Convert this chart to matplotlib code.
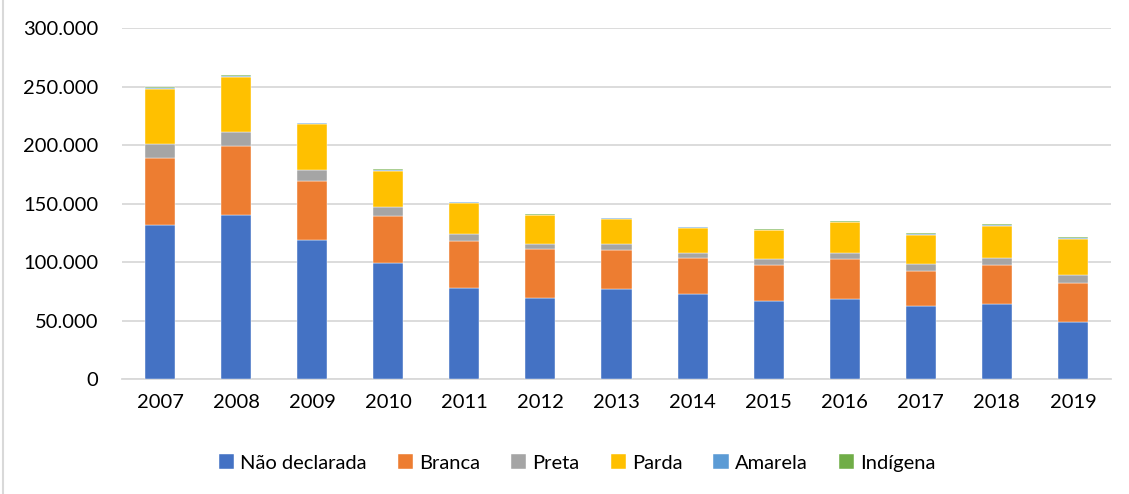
import matplotlib
matplotlib.use("Agg")
import matplotlib.pyplot as plt
from matplotlib.ticker import FuncFormatter
from matplotlib.patches import Rectangle
import numpy as np

years = ["2007", "2008", "2009", "2010", "2011", "2012", "2013", "2014", "2015", "2016", "2017", "2018", "2019"]
nao_declarada = [131800, 139800, 118400, 98800, 77400, 69400, 76900, 72600, 66600, 68100, 62100, 64100, 48400]
branca = [57500, 59200, 50700, 40100, 40500, 41300, 33300, 30400, 30800, 34100, 30400, 33200, 33900]
preta = [11700, 12000, 9400, 7700, 6200, 5100, 5100, 4300, 5100, 5400, 5400, 5700, 6600]
parda = [47000, 47500, 39100, 31600, 26200, 24000, 21700, 21700, 24500, 26200, 25600, 28000, 31000]
amarela = [900, 900, 800, 800, 600, 500, 600, 500, 500, 700, 700, 600, 800]
indigena = [600, 600, 600, 600, 500, 300, 400, 300, 300, 500, 500, 500, 600]

series = [
    ("Não declarada", nao_declarada, "#4472C4"),
    ("Branca", branca, "#ED7D31"),
    ("Preta", preta, "#A5A5A5"),
    ("Parda", parda, "#FFC000"),
    ("Amarela", amarela, "#5B9BD5"),
    ("Indígena", indigena, "#70AD47"),
]

plt.rcParams['font.family'] = ['Lato', 'DejaVu Sans']

fig = plt.figure(figsize=(11.29, 4.94), dpi=100)
ax = fig.add_axes([122/1129, 1 - 379/494, (1111-122)/1129, (379-28)/494])

x = np.arange(len(years))
bottom = np.zeros(len(years))
for name, vals, col in series:
    v = np.array(vals, dtype=float)
    ax.bar(x, v, 0.395, bottom=bottom, color=col, label=name, edgecolor="white", linewidth=0.3, zorder=3)
    bottom += v

ax.set_xlim(-0.5, len(years) - 0.5)
ax.set_ylim(0, 300000)
ax.set_yticks(np.arange(0, 300001, 50000))
ax.yaxis.set_major_formatter(FuncFormatter(lambda v, p: "0" if v == 0 else f"{int(v):,}".replace(",", ".")))
ax.set_xticks(x)
ax.set_xticklabels(years)
ax.grid(axis="y", color="#D9D9D9", linewidth=1.3, zorder=0)
for s in ["top", "right", "left"]:
    ax.spines[s].set_visible(False)
ax.spines["bottom"].set_color("#D9D9D9")
ax.spines["bottom"].set_linewidth(1.3)
ax.tick_params(axis="both", length=0, labelsize=14.5, colors="#000000")
ax.tick_params(axis="y", pad=17)
ax.tick_params(axis="x", pad=11)

ax.legend(loc="center", bbox_to_anchor=(577/1129, 1 - 463/494), bbox_transform=fig.transFigure,
          ncol=6, frameon=False, fontsize=14.5, handlelength=0.75, handleheight=0.75,
          handletextpad=0.3, columnspacing=1.55)

fig.patches.append(Rectangle((3/1129, 0), 0, 1, transform=fig.transFigure,
                             edgecolor="#D9D9D9", linewidth=1.5, fill=False))

fig.savefig("out.png", dpi=100, facecolor="white")
